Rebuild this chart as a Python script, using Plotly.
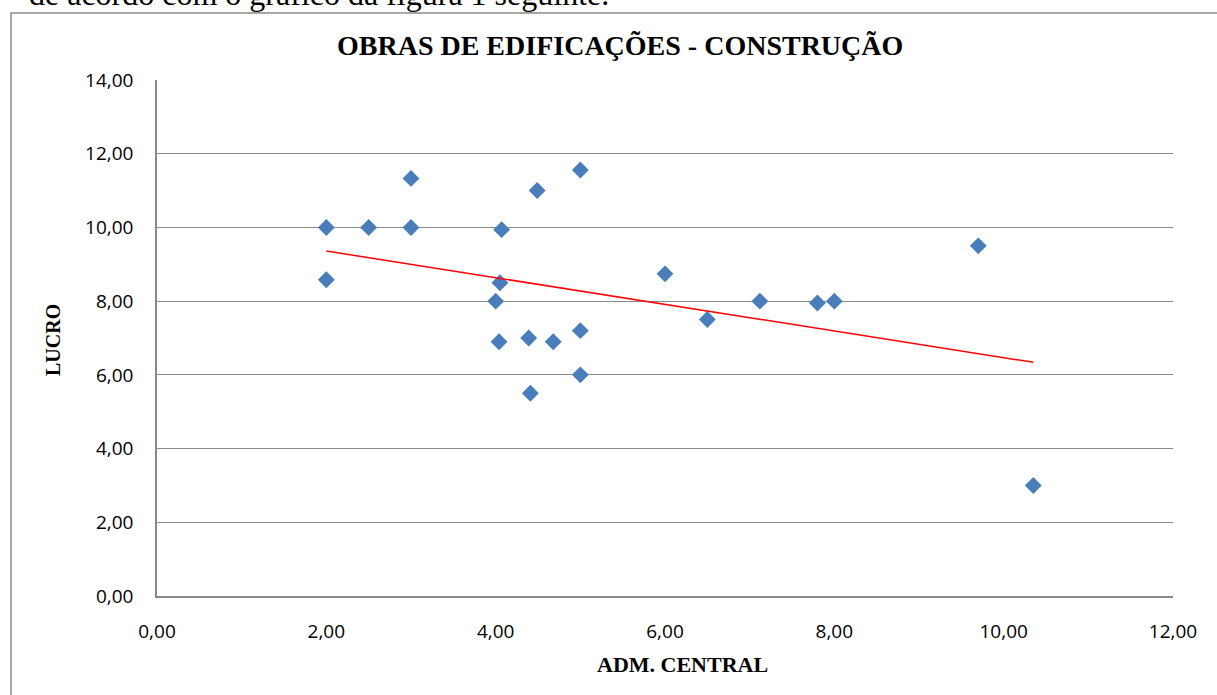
import plotly.graph_objects as go

# ---- data ----
adm_central = [2.00, 2.00, 2.50, 3.00, 3.00, 4.07, 4.05, 4.00, 4.04, 4.39, 4.41, 4.49,
               4.68, 5.00, 5.00, 5.00, 6.00, 6.50, 7.12, 7.80, 8.00, 9.70, 10.35]
lucro = [10.00, 8.58, 10.00, 11.33, 10.00, 9.94, 8.50, 8.00, 6.90, 7.00, 5.50, 11.00,
         6.90, 11.56, 7.20, 6.00, 8.74, 7.50, 8.00, 7.95, 8.00, 9.50, 3.00]
trend_x = [2.00, 10.35]
trend_y = [9.36, 6.34]

title_text = "OBRAS DE EDIFICAÇÕES - CONSTRUÇÃO"
x_title = "ADM. CENTRAL"
y_title = "LUCRO"
page_text = "de acordo com o gráfico da figura 1 seguinte."

W, H = 1217, 695
L, R, T, B = 157, 1173, 80, 596  # plot area in pixels


def px(xp):
    return (xp - L) / (R - L)


def py(yp):
    return (B - yp) / (B - T)


fig = go.Figure()
fig.add_trace(go.Scatter(
    x=adm_central, y=lucro, mode="markers",
    marker=dict(symbol="diamond", size=13, color="#4A7EBB",
                line=dict(width=0)),
    showlegend=False, hoverinfo="x+y"))
fig.add_trace(go.Scatter(
    x=trend_x, y=trend_y, mode="lines",
    line=dict(color="#FF0000", width=1.5),
    showlegend=False, hoverinfo="skip"))

tick_font = dict(family="Open Sans, Noto Sans, sans-serif", size=19, color="#000000")
serif_bold = "Liberation Serif, Times New Roman, serif"

fig.update_layout(
    width=W, height=H,
    margin=dict(l=L, r=W - R, t=T, b=H - B, pad=0),
    paper_bgcolor="white", plot_bgcolor="white",
    separators=",.",
    xaxis=dict(range=[0, 12], dtick=2, tick0=0, tickformat=".2f",
               showgrid=False, zeroline=False,
               showline=True, linecolor="#898989", linewidth=1.5,
               ticks="", tickfont=tick_font, ticklabelstandoff=17,
               fixedrange=True),
    yaxis=dict(range=[0, 14], dtick=2, tick0=0, tickformat=".2f",
               showgrid=True, gridcolor="#898989", gridwidth=1.3,
               zeroline=False,
               showline=True, linecolor="#898989", linewidth=1.5,
               ticks="", tickfont=tick_font, ticklabelstandoff=18,
               fixedrange=True),
    shapes=[dict(type="rect", xref="paper", yref="paper",
                 x0=px(11), x1=px(1240), y0=py(720), y1=py(13),
                 line=dict(color="#8C8C8C", width=1.5), layer="below")],
    annotations=[
        dict(text="<b>" + title_text + "</b>", xref="paper", yref="paper",
             x=px(620), y=py(45), xanchor="center", yanchor="middle",
             showarrow=False, font=dict(family=serif_bold, size=28, color="#000")),
        dict(text="<b>" + x_title + "</b>", xref="paper", yref="paper",
             x=px(682), y=py(664), xanchor="center", yanchor="middle",
             showarrow=False, font=dict(family=serif_bold, size=22, color="#000")),
        dict(text="<b>" + y_title + "</b>", xref="paper", yref="paper",
             x=px(53), y=py(340), xanchor="center", yanchor="middle",
             textangle=-90,
             showarrow=False, font=dict(family=serif_bold, size=20, color="#000")),
        dict(text=page_text, xref="paper", yref="paper",
             x=px(27), y=py(-6), xanchor="left", yanchor="middle",
             showarrow=False, font=dict(family="Liberation Serif, Times New Roman, serif",
                                        size=32, color="#000")),
    ],
)

fig.write_html("out.html", config={"displayModeBar": False},
               post_script="document.body.style.margin='0px';")
